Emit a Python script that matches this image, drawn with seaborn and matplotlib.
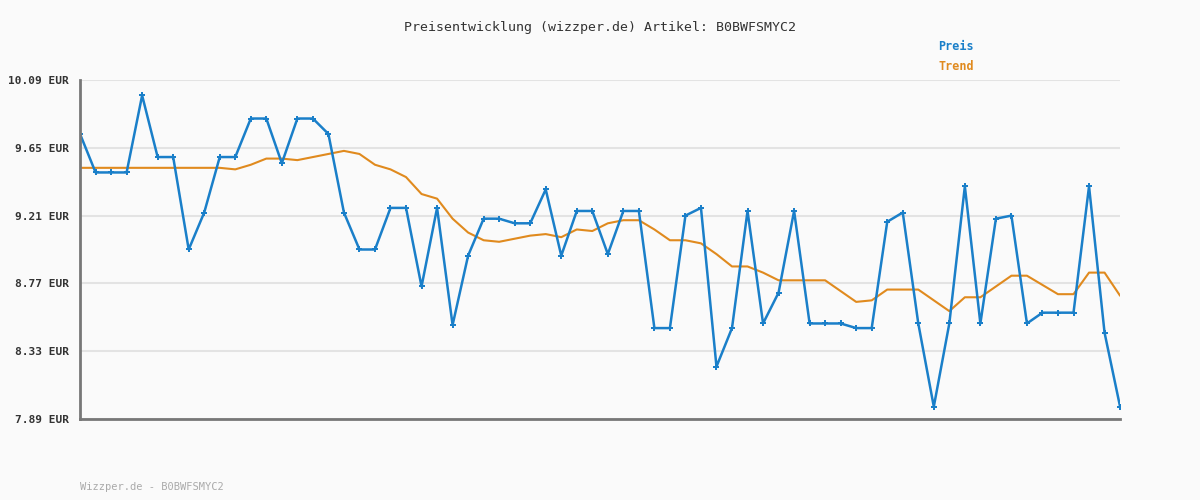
import matplotlib
matplotlib.use("Agg")
import matplotlib.pyplot as plt
import seaborn as sns
import pandas as pd

sns.set_style("white")
plt.rcParams['font.family'] = ['DejaVu Sans Mono']

## Data ##
preis = [9.74, 9.49, 9.49, 9.49, 9.99, 9.59, 9.59, 8.99, 9.23, 9.59, 9.59, 9.84, 9.84, 9.55,
         9.84, 9.84, 9.74, 9.23, 8.99, 8.99, 9.26, 9.26, 8.75, 9.26, 8.50, 8.95, 9.19, 9.19,
         9.16, 9.16, 9.38, 8.95, 9.24, 9.24,
         8.96, 9.24, 9.24, 8.48, 8.48, 9.21, 9.26, 8.23, 8.48, 9.24, 8.51, 8.71, 9.24, 8.51,
         8.51, 8.51, 8.48, 8.48, 9.17, 9.23, 8.51, 7.97, 8.51, 9.40, 8.51, 9.19, 9.21, 8.51,
         8.58, 8.58, 8.58, 9.40, 8.45, 7.97]
trend = [9.52] * 10 + [9.51, 9.54, 9.58, 9.58, 9.57, 9.59, 9.61, 9.63, 9.61, 9.54, 9.51, 9.46,
         9.35, 9.32, 9.19, 9.10, 9.05, 9.04, 9.06, 9.08, 9.09, 9.07, 9.12, 9.11,
         9.16, 9.18, 9.18, 9.12, 9.05, 9.05, 9.03, 8.96, 8.88, 8.88, 8.84, 8.79, 8.79, 8.79,
         8.79, 8.72, 8.65, 8.66, 8.73, 8.73, 8.73, 8.66, 8.59, 8.68, 8.68, 8.75, 8.82, 8.82,
         8.76, 8.70, 8.70, 8.84, 8.84, 8.69]
yticks = [7.89, 8.33, 8.77, 9.21, 9.65, 10.09]
artikel = "B0BWFSMYC2"

df = pd.DataFrame({"idx": range(len(preis)), "Preis": preis, "Trend": trend})

blue = "#1a7fc9"
orange = "#e08a1e"

fig = plt.figure(figsize=(12, 5), dpi=100, facecolor="#fafafa")
ax = fig.add_axes([0.0667, 0.162, 0.8667, 0.678])
ax.set_facecolor("#fafafa")

sns.lineplot(data=df, x="idx", y="Trend", color=orange, linewidth=1.5, ax=ax)
sns.lineplot(data=df, x="idx", y="Preis", color=blue, linewidth=1.8, marker="P",
             markersize=4, markeredgewidth=0, ax=ax)

ax.set_xlim(0, len(preis) - 1)
ax.set_ylim(7.89, 10.09)
ax.set_yticks(yticks)
ax.set_yticklabels(["{:.2f} EUR".format(v) for v in yticks], fontsize=8, fontweight="bold", color="#333333")
ax.set_xticks([])
ax.set_xlabel("")
ax.set_ylabel("")
ax.grid(axis="y", color="#e3e3e3", linewidth=1.5)
ax.tick_params(axis="y", length=5, color="#777777", width=1, pad=3)
for s in ["top", "right"]:
    ax.spines[s].set_visible(False)
for s in ["left", "bottom"]:
    ax.spines[s].set_color("#777777")
    ax.spines[s].set_linewidth(2)

fig.text(0.5, 0.944, "Preisentwicklung (wizzper.de) Artikel: " + artikel, ha="center",
         va="center", fontsize=9.5, color="#333333")
fig.text(0.782, 0.906, "Preis", color=blue, fontsize=8.5, fontweight="bold", va="center")
fig.text(0.782, 0.866, "Trend", color=orange, fontsize=8.5, fontweight="bold", va="center")
fig.text(0.0667, 0.026, "Wizzper.de - " + artikel, color="#aaaaaa", fontsize=7.5, va="center")

fig.savefig("out.png", dpi=100, facecolor=fig.get_facecolor())
